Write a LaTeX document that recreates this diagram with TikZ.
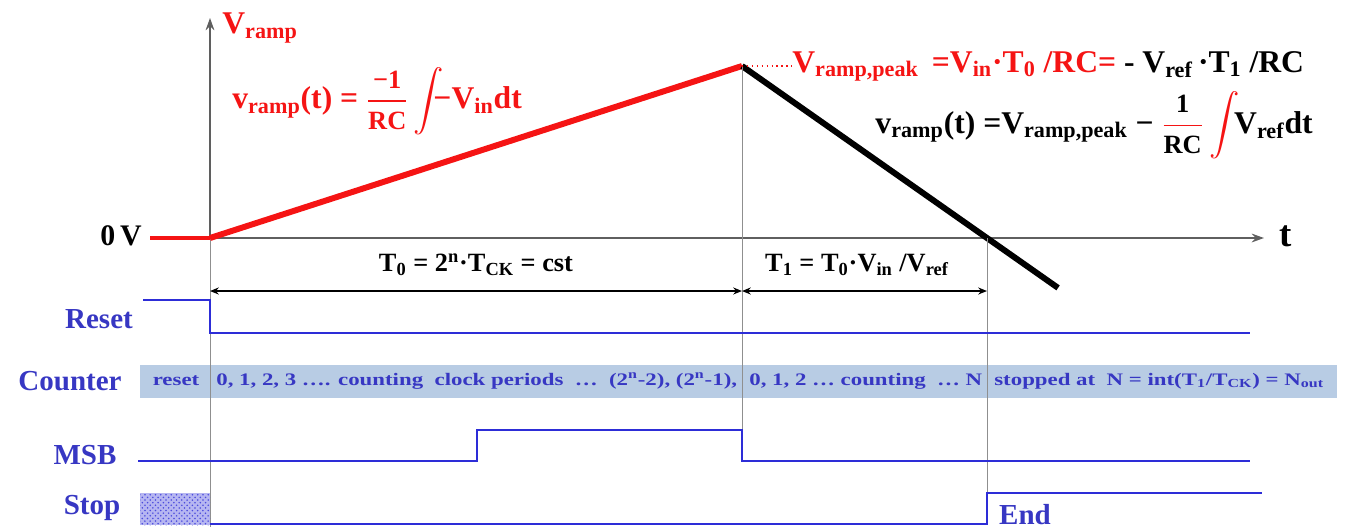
\documentclass[tikz,border=0pt]{standalone}
\usepackage{amsmath}
\usepackage{fontspec}
\setmainfont{Liberation Serif}
\newfontfamily\widefont{Liberation Serif}[FakeStretch=1.3]
\usetikzlibrary{arrows.meta,positioning,calc,patterns}
\definecolor{rampred}{RGB}{245,20,20}
\definecolor{sigblue}{RGB}{45,45,215}
\definecolor{txtblue}{RGB}{55,55,195}
\definecolor{bandblue}{RGB}{184,204,228}
\definecolor{axisgray}{RGB}{95,95,95}
\newcommand{\smallfr}[2]{$\dfrac{\text{\fontsize{15}{15}\selectfont #1}}{\text{\fontsize{15}{15}\selectfont #2}}$}
\tikzset{
  sigName/.style={font=\fontsize{16.5}{18}\selectfont\bfseries, text=txtblue, inner sep=0pt},
  bigEq/.style={font=\fontsize{18}{21}\selectfont\bfseries, inner sep=0pt},
  midEq/.style={font=\fontsize{15}{17}\selectfont\bfseries, inner sep=0pt},
  cntText/.style={font=\widefont\fontsize{10}{12}\selectfont\bfseries, text=txtblue, inner sep=0pt},
  sig/.style={draw=sigblue, line width=1.6pt},
  guide/.style={draw=axisgray!70, line width=0.5pt},
  axis/.style={draw=axisgray, line width=1pt, -{Stealth[length=7pt,width=5pt]}},
  dim/.style={draw=black, line width=0.9pt, {Stealth[length=5pt,width=4pt]}-{Stealth[length=5pt,width=4pt]}}
}
\begin{document}
\begin{tikzpicture}[x=0.02cm, y=-0.02cm]
\useasboundingbox (0,0) rectangle (1350,529);
% time instants
\coordinate (O) at (210,238);
\coordinate (ytop) at (210,18);
\coordinate (tend) at (1264,238);
\coordinate (peak) at (742,66);
\coordinate (zc) at (987,238);
\coordinate (fall) at ($(peak)!1.29!(zc)$);
\coordinate (zl) at (150,238);
% counter band
\node[fill=bandblue, minimum width=23.94cm, minimum height=0.66cm, inner sep=0pt] (band) at (738.5,381.5) {};
% axes
\draw[guide] (O) -- (210,527);
\draw[axis] (O) -- (ytop);
\draw[axis] (O) -- (tend);
\node[bigEq, text=rampred, anchor=west] (vr) at (222,28) {V\textsubscript{ramp}};
\node[midEq, font=\fontsize{17}{19}\selectfont\bfseries] (zero) at (121,236) {0\,V};
\node[bigEq, font=\fontsize{21}{23}\selectfont\bfseries] (tlbl) at (1286,236) {t};
% ramp
\draw[rampred, line width=1.8pt] (zl) -- (O);
\draw[rampred, line width=3.4pt] (O) -- (peak);
\draw[black, line width=3.4pt] (peak) -- (fall);
% guides
\draw[guide] (peak) -- (742,462);
\draw[guide] (zc) -- (987,495);
% equations
\node[bigEq, text=rampred, anchor=west] (eqa) at (232,101)
  {v\textsubscript{ramp}(t) = \smallfr{−1}{RC}\,$\displaystyle\int$\!\!−V\textsubscript{in}dt};
\node[bigEq, anchor=base west] (eqp) at (792,72)
  {{\color{rampred}V\textsubscript{ramp,peak}\ \,=V\textsubscript{in}·T\textsubscript{0} /RC=} - V\textsubscript{ref}\,·T\textsubscript{1} /RC};
\draw[rampred, dotted, line width=0.8pt] (peak) -- (eqp.west |- peak);
\node[bigEq, anchor=base east] (eqb) at (1313,133)
  {v\textsubscript{ramp}(t) =V\textsubscript{ramp,peak} − {\color{rampred}\smallfr{\color{black}1}{\color{black}RC}\,$\displaystyle\int$}\!V\textsubscript{ref}dt};
% time spans
\coordinate (d0) at (210,291);
\coordinate (d1) at (742,291);
\coordinate (d2) at (987,291);
\draw[dim] (d0) -- (d1);
\draw[dim] (d1) -- (d2);
\node[midEq] (tzero) at (476,265) {T\textsubscript{0} = 2\textsuperscript{n}·T\textsubscript{CK} = cst};
\node[midEq] (tone) at (857,265) {T\textsubscript{1} = T\textsubscript{0}·V\textsubscript{in} /V\textsubscript{ref}};
% signal names
\node[sigName] (reset) at (99,319) {Reset};
\node[sigName] (counter) at (70,381) {Counter};
\node[sigName] (msb) at (85,455) {MSB};
\node[sigName] (stop) at (92,508) {Stop};
% counter contents
\node[cntText] (c0) at (176,381) {reset};
\node[cntText, anchor=west] (c1) at (216,381) {0, 1, 2, 3 …. counting\ \ clock periods\ \ …\ \ (2\textsuperscript{n}-2), (2\textsuperscript{n}-1),};
\node[cntText, anchor=west] (c2) at (749,381) {0, 1, 2 … counting\ \ … N};
\node[cntText, anchor=west] (c3) at (994,381) {stopped at\ \ N = int(T\textsubscript{1}/T\textsubscript{CK}) = N\textsubscript{out}};
% waveforms
\draw[sig] (143,300) -- (210,300) -- (210,333) -- (1250,333);
\draw[sig] (138,461) -- (477,461) -- (477,430) -- (742,430) -- (742,461) -- (1250,461);
\fill[sigblue!35] (140,493) rectangle (210,525);
\fill[pattern=crosshatch dots, pattern color=sigblue!85] (140,493) rectangle (210,525);
\draw[sig] (210,524) -- (987,524) -- (987,493) -- (1262,493);
\node[sigName] (endlbl) at (1025,515) {End};
% guide over band
\draw[guide] (742,365) -- (742,398);
\draw[guide] (987,365) -- (987,398);
\draw[guide] (210,365) -- (210,398);
\end{tikzpicture}
\end{document}
